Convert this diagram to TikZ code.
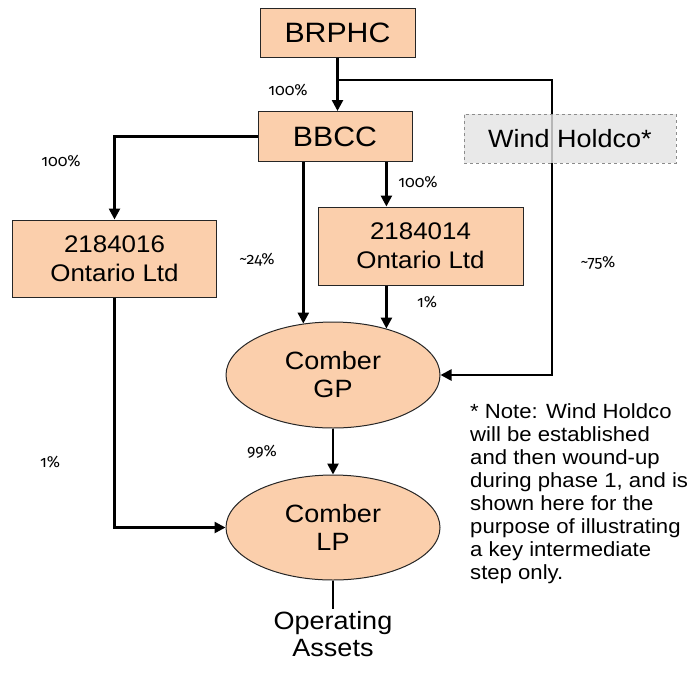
\documentclass[tikz,border=0pt]{standalone}
\usepackage{fontspec}
\setmainfont[FakeStretch=1.08]{Liberation Sans}
\newfontfamily\pctfont[Numbers=OldStyle]{Fira Sans}
\usetikzlibrary{arrows.meta,shapes.geometric}
\definecolor{peach}{RGB}{251,207,172}
\definecolor{windfill}{RGB}{228,228,228}
\definecolor{windline}{RGB}{140,140,140}
\tikzset{
  entity/.style={draw=black!85, line width=1pt, fill=peach, inner sep=0pt, align=center},
  ovalent/.style={ellipse, draw=black!85, line width=1pt, fill=peach, inner sep=0pt, align=center},
  conn/.style={line width=2.5pt, -{Triangle[length=11pt,width=11pt]}},
  plainconn/.style={line width=2.5pt},
  pct/.style={font=\pctfont\fontsize{16}{20}\selectfont},
}
\begin{document}
\begin{tikzpicture}[x=1pt,y=-1pt]
\useasboundingbox (0,0) rectangle (688,673);
% nodes
\node[entity, minimum width=155pt, minimum height=49pt, font=\fontsize{28}{30}\selectfont] (brphc) at (337.5,32.5) {BRPHC};
\node[entity, minimum width=154pt, minimum height=50pt, font=\fontsize{28}{30}\selectfont] (bbcc) at (335,136.5) {BBCC};
\node[entity, minimum width=204pt, minimum height=77pt, font=\fontsize{24}{29}\selectfont] (b16) at (114.5,258.5) {2184016\\Ontario Ltd};
\node[entity, minimum width=205pt, minimum height=78pt, font=\fontsize{24}{29}\selectfont] (b14) at (420.5,246) {2184014\\Ontario Ltd};
\node[ovalent, minimum width=214pt, minimum height=106pt, font=\fontsize{25}{28}\selectfont] (gp) at (333,375) {Comber\\GP};
\node[ovalent, minimum width=214pt, minimum height=105pt, font=\fontsize{25}{28}\selectfont] (lp) at (333,527.5) {Comber\\LP};
\node[anchor=north, inner sep=2pt, align=center, font=\fontsize{25}{27}\selectfont] (op) at (333,609) {Operating\\Assets};
\node[anchor=north west, inner sep=0pt, align=left, font=\fontsize{20.5}{23}\selectfont] (note) at (470,403)
  {* Note: Wind Holdco\\will be established\\and then wound-up\\during phase 1, and is\\shown here for the\\purpose of illustrating\\a key intermediate\\step only.};
\coordinate (wj) at (552,80);
% connectors
\draw[conn] (brphc.south) -- (brphc.south |- bbcc.north);
\draw[conn] (wj -| brphc.south) -- (wj) |- (gp.east);
\draw[conn] (bbcc.west) -| (b16.north);
\draw[conn] (bbcc.south -| gp.120.5) -- (gp.120.5);
\draw[conn] (bbcc.south -| gp.41.7) -- (b14.north -| gp.41.7);
\draw[conn] (b14.south -| gp.41.7) -- (gp.41.7);
\draw[conn] (b16.south) |- (lp.west);
\draw[conn] (gp.south) -- (lp.north);
\draw[plainconn] (lp.south) -- (op.north);
% Wind Holdco (over the line)
\node[draw=windline, dashed, line width=1pt, fill=windfill, fill opacity=0.8, text opacity=1, minimum width=212pt, minimum height=49pt, inner sep=0pt, font=\fontsize{25}{28}\selectfont] (wind) at (570,138.5) {Wind Holdco*};
% percentages
\node[pct] (p1) at (288,90) {100\%};
\node[pct] (p2) at (61,161) {100\%};
\node[pct] (p3) at (418,182) {100\%};
\node[pct] (p4) at (257,260) {\textasciitilde 24\%};
\node[pct] (p5) at (598,263) {\textasciitilde 75\%};
\node[pct] (p6) at (427,302) {1\%};
\node[pct] (p7) at (262,452) {99\%};
\node[pct] (p8) at (50,462) {1\%};
\end{tikzpicture}
\end{document}
